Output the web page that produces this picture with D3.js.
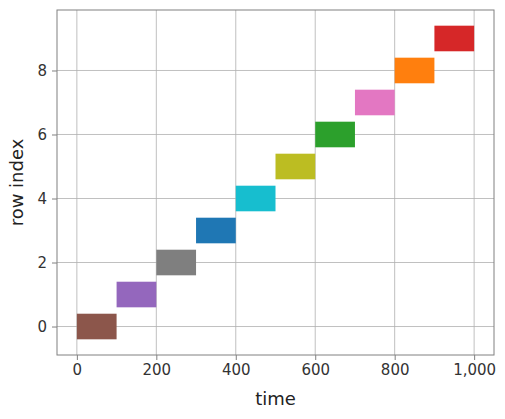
<!DOCTYPE html>
<html><head><meta charset="utf-8">
<script src="https://d3js.org/d3.v7.min.js"></script>
<style>body{margin:0;background:#fff}text{font-family:"DejaVu Sans",sans-serif}</style>
</head><body><svg id="c" width="505" height="419"></svg>
<script>
const rows = [0,1,2,3,4,5,6,7,8,9];
const starts = [0,100,200,300,400,500,600,700,800,900];
const durations = [100,100,100,100,100,100,100,100,100,100];
const colors = ["#8c564b","#9467bd","#7f7f7f","#1f77b4","#17becf","#bcbd22","#2ca02c","#e377c2","#ff7f0e","#d62728"];
const xTicks = [0,200,400,600,800,1000];
const yTicks = [0,2,4,6,8];

const svg = d3.select("#c");
const L=57,R=494,T=10,B=355;
const x = d3.scaleLinear().domain([-50,1050]).range([L,R]);
const y = d3.scaleLinear().domain([-0.89,9.89]).range([B,T]);

const g = svg.append("g");
xTicks.forEach(t=>g.append("line").attr("x1",x(t)).attr("x2",x(t)).attr("y1",T).attr("y2",B).attr("stroke","#b0b0b0").attr("stroke-width",0.8));
yTicks.forEach(t=>g.append("line").attr("x1",L).attr("x2",R).attr("y1",y(t)).attr("y2",y(t)).attr("stroke","#b0b0b0").attr("stroke-width",0.8));

svg.selectAll("rect.bar").data(rows).enter().append("rect")
  .attr("x",(d,i)=>x(starts[i])).attr("width",(d,i)=>x(starts[i]+durations[i])-x(starts[i]))
  .attr("y",d=>y(d+0.4)).attr("height",d=>y(d-0.4)-y(d+0.4))
  .attr("fill",(d,i)=>colors[i]);

svg.append("rect").attr("x",L).attr("y",T).attr("width",R-L).attr("height",B-T).attr("fill","none").attr("stroke","#808080").attr("stroke-width",1);

const xa = svg.append("g").attr("transform",`translate(0,${B})`).call(d3.axisBottom(x).tickValues(xTicks).tickSize(5).tickPadding(4));
const ya = svg.append("g").attr("transform",`translate(${L},0)`).call(d3.axisLeft(y).tickValues(yTicks).tickSize(5).tickPadding(5));
[xa,ya].forEach(a=>{a.select(".domain").remove();a.selectAll("line").attr("stroke","#808080");a.selectAll("text").attr("font-size",15).attr("fill","#333").style("font-family","DejaVu Sans");});

svg.append("text").attr("x",(L+R)/2).attr("y",405).attr("text-anchor","middle").attr("font-size",18).attr("fill","#222").text("time");
svg.append("text").attr("transform",`translate(23,${(T+B)/2}) rotate(-90)`).attr("text-anchor","middle").attr("font-size",18).attr("fill","#222").text("row index");
</script></body></html>
